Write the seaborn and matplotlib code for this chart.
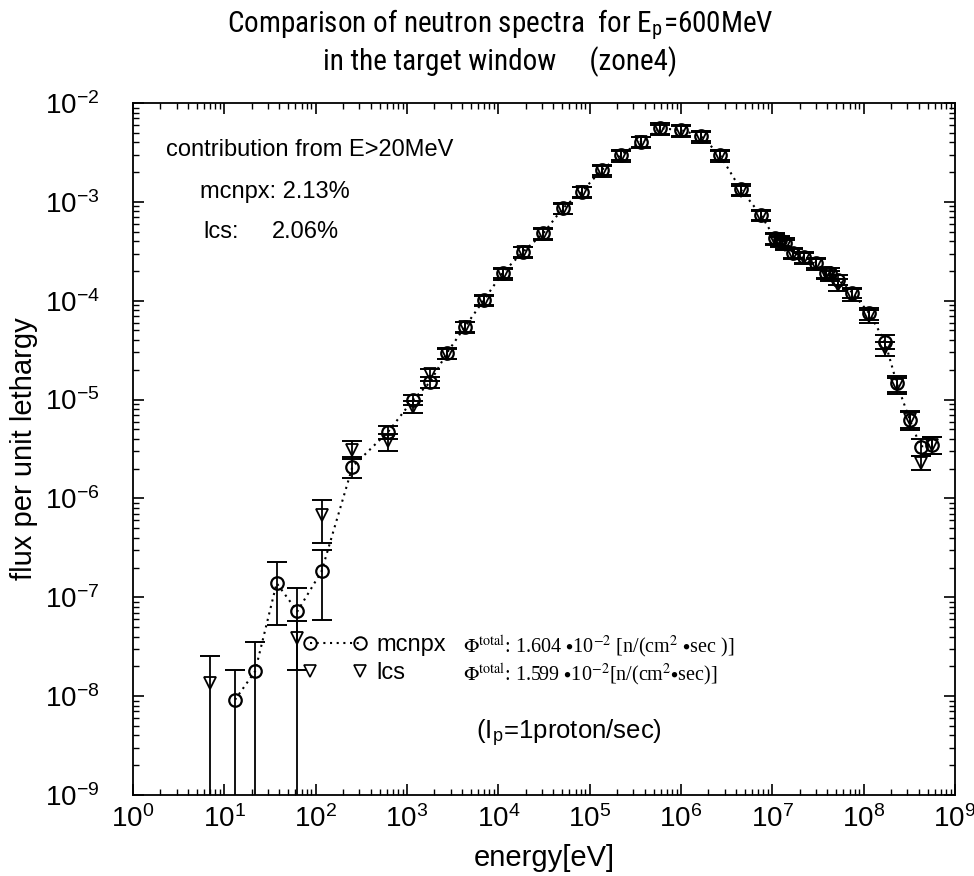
import numpy as np
import pandas as pd
import matplotlib
matplotlib.use("Agg")
import matplotlib.pyplot as plt
import seaborn as sns
from matplotlib.lines import Line2D
from matplotlib.legend_handler import HandlerLine2D
from matplotlib.ticker import LogLocator, NullFormatter
from matplotlib import font_manager

# ---------------- data ----------------
energy_eV = [7.0, 13.1, 21.7, 37.4, 63, 116, 253, 625, 1170, 1790, 2720, 4320,
             6970, 11160, 18800, 31100, 50700, 81800, 135500, 219000, 362000,
             589000, 993000, 1.64e6, 2.67e6, 4.5e6, 7.46e6, 1.07e7, 1.21e7,
             1.38e7, 1.67e7, 2.22e7, 2.98e7, 3.87e7, 4.27e7, 5.27e7, 7.5e7,
             1.15e8, 1.71e8, 2.3e8, 3.2e8, 4.2e8, 5.55e8]

mcnpx_flux = [np.nan, 9.2e-9, 1.78e-8, 1.39e-7, 7.2e-8, 1.83e-7, 2.1e-6, 4.75e-6,
              1.0e-5, 1.5e-5, 2.94e-5, 5.47e-5, 1.02e-4, 1.92e-4, 3.14e-4, 4.81e-4,
              8.6e-4, 1.27e-3, 2.1e-3, 2.98e-3, 4.06e-3, 5.55e-3, 5.33e-3, 4.64e-3,
              2.98e-3, 1.34e-3, 7.4e-4, 4.28e-4, 4.07e-4, 3.82e-4, 3.07e-4, 2.76e-4,
              2.43e-4, 1.92e-4, 1.9e-4, 1.62e-4, 1.21e-4, 7.46e-5, 3.86e-5, 1.47e-5,
              6.2e-6, 3.35e-6, 3.48e-6]
# relative errors (lower / upper); 1.0 means the bar reaches zero
mcnpx_err_lo = [0, 1.0, 1.0, 0.62, 1.0, 0.68, 0.24, 0.15, 0.12, 0.12, 0.12, 0.12,
                0.12, 0.12, 0.12, 0.12, 0.12, 0.12, 0.12, 0.12, 0.12, 0.12, 0.12,
                0.12, 0.12, 0.12, 0.12, 0.12, 0.12, 0.12, 0.12, 0.12, 0.12, 0.12,
                0.12, 0.12, 0.12, 0.14, 0.16, 0.18, 0.2, 0.2, 0.2]
mcnpx_err_hi = [0, 1.0, 1.0, 0.65, 0.72, 0.64, 0.24, 0.15, 0.12, 0.12, 0.12, 0.12,
                0.12, 0.12, 0.12, 0.12, 0.12, 0.12, 0.12, 0.12, 0.12, 0.12, 0.12,
                0.12, 0.12, 0.12, 0.12, 0.12, 0.12, 0.12, 0.12, 0.12, 0.12, 0.12,
                0.12, 0.12, 0.12, 0.14, 0.16, 0.18, 0.2, 0.2, 0.2]

lcs_flux = [1.37e-8, np.nan, np.nan, np.nan, 3.87e-8, 6.8e-7, 3.1e-6, 3.77e-6,
            8.5e-6, 1.8e-5, 2.9e-5, 5.4e-5, 1.0e-4, 1.85e-4, 3.1e-4, 4.7e-4, 8.5e-4,
            1.25e-3, 2.05e-3, 2.9e-3, 4.0e-3, 5.4e-3, 5.2e-3, 4.5e-3, 2.9e-3, 1.3e-3,
            7.2e-4, 4.2e-4, 3.95e-4, 3.7e-4, 3.0e-4, 2.7e-4, 2.35e-4, 1.9e-4, 1.8e-4,
            1.45e-4, 1.15e-4, 7.0e-5, 3.3e-5, 1.4e-5, 6.4e-6, 2.3e-6, 3.5e-6]
lcs_err_lo = [1.0, 0, 0, 0, 0.53, 0.48, 0.2, 0.2, 0.14, 0.14, 0.12, 0.12, 0.12,
              0.12, 0.12, 0.12, 0.12, 0.12, 0.12, 0.12, 0.12, 0.12, 0.12, 0.12,
              0.12, 0.12, 0.12, 0.12, 0.12, 0.12, 0.12, 0.12, 0.12, 0.12, 0.12,
              0.14, 0.14, 0.14, 0.16, 0.18, 0.2, 0.16, 0.2]
lcs_err_hi = [0.85, 0, 0, 0, 0.5, 0.43, 0.22, 0.2, 0.14, 0.14, 0.12, 0.12, 0.12,
              0.12, 0.12, 0.12, 0.12, 0.12, 0.12, 0.12, 0.12, 0.12, 0.12, 0.12,
              0.12, 0.12, 0.12, 0.12, 0.12, 0.12, 0.12, 0.12, 0.12, 0.12, 0.12,
              0.14, 0.14, 0.14, 0.16, 0.18, 0.2, 0.16, 0.2]

series_names = ["mcnpx", "lcs"]
phi_texts = [r"$\Phi^{\rm total}$: 1.604 $\bullet$10$^{-2}$ [n/(cm$^2$ $\bullet$sec )]",
             r"$\Phi^{\rm total}$: 1.599 $\bullet$10$^{-2}$[n/(cm$^2$$\bullet$sec)]"]

# ---------------- style ----------------
sns.set_theme(style="ticks")
plt.rcParams["font.family"] = ["Liberation Sans", "DejaVu Sans"]
plt.rcParams["mathtext.fontset"] = "stix"
plt.rcParams["axes.linewidth"] = 1.3
for k in ["text.color", "axes.labelcolor", "xtick.color", "ytick.color", "axes.edgecolor"]:
    plt.rcParams[k] = "black"

df = pd.DataFrame({"energy": energy_eV,
                   "mcnpx": mcnpx_flux, "lcs": lcs_flux,
                   "m_lo": mcnpx_err_lo, "m_hi": mcnpx_err_hi,
                   "l_lo": lcs_err_lo, "l_hi": lcs_err_hi})

fig = plt.figure(figsize=(9.74, 8.76), dpi=100)
ax = fig.add_axes([133 / 974, 81 / 876, 822 / 974, 692 / 876])

# error bars
for col, lo, hi in [("mcnpx", "m_lo", "m_hi"), ("lcs", "l_lo", "l_hi")]:
    d = df.dropna(subset=[col])
    y = d[col].values
    yerr = np.vstack([y * d[lo].values, y * d[hi].values])
    ax.errorbar(d["energy"], y, yerr=yerr, fmt="none", ecolor="black",
                elinewidth=1.3, capsize=7, capthick=1.4, zorder=2)

# mcnpx: dotted line + open circles
sns.lineplot(data=df.dropna(subset=["mcnpx"]), x="energy", y="mcnpx", ax=ax,
             color="black", linestyle=(0, (1, 2.2)), linewidth=1.5,
             marker="o", markersize=9, markerfacecolor="none",
             markeredgecolor="black", markeredgewidth=1.6, sort=True,
             estimator=None, zorder=3)
# lcs: open down-triangles, no line
sns.lineplot(data=df.dropna(subset=["lcs"]), x="energy", y="lcs", ax=ax,
             color="black", linestyle="", marker="v", markersize=9,
             markerfacecolor="none", markeredgecolor="black",
             markeredgewidth=1.3, estimator=None, zorder=3)

ax.set_xscale("log")
ax.set_yscale("log")
ax.set_xlim(1, 1e9)
ax.set_ylim(1e-9, 1e-2)

ax.xaxis.set_major_locator(LogLocator(base=10, numticks=20))
ax.yaxis.set_major_locator(LogLocator(base=10, numticks=20))
ax.xaxis.set_minor_locator(LogLocator(base=10, subs=np.arange(2, 10), numticks=100))
ax.yaxis.set_minor_locator(LogLocator(base=10, subs=np.arange(2, 10), numticks=100))
ax.xaxis.set_minor_formatter(NullFormatter())
ax.yaxis.set_minor_formatter(NullFormatter())
ax.tick_params(which="both", direction="in", top=True, right=True, color="black",
               labelcolor="black")
ax.tick_params(which="major", length=8, width=1.2, labelsize=20)
ax.tick_params(axis="x", which="major", pad=7)
ax.tick_params(axis="y", which="major", pad=24)
ax.tick_params(which="minor", length=4, width=1.0)
for s in ax.spines.values():
    s.set_color("black")

ax.set_xlabel("energy[eV]", fontsize=21, labelpad=8, color="black")
ax.set_ylabel("flux per unit lethargy", fontsize=21, color="black")
ax.yaxis.set_label_coords(-0.1156, 0.5)

# legend
h_m = Line2D([], [], color="black", linestyle=(0, (1, 2.2)), linewidth=1.5,
             marker="o", markersize=9, markerfacecolor="none", markeredgewidth=1.4)
h_l = Line2D([], [], color="black", linestyle="", marker="v", markersize=9,
             markerfacecolor="none", markeredgewidth=1.2, markevery=[1])
leg = ax.legend([h_m, h_l], series_names, loc="upper left",
                bbox_to_anchor=((303 - 133) / 822, (795 - 634) / 692),
                frameon=False, fontsize=17, handlelength=2.7, handletextpad=0.4,
                labelspacing=0.25, borderaxespad=0, borderpad=0, numpoints=2,
                labelcolor="black",
                handler_map={h_m: HandlerLine2D(numpoints=2), h_l: HandlerLine2D(numpoints=2)})

for i, t in enumerate(phi_texts):
    ax.text((463 - 133) / 822, (795 - 647 - 28 * i) / 692, t, transform=ax.transAxes,
            fontsize=14.5, va="center", ha="left", family="Liberation Serif")

ax.text((166 - 133) / 822, (795 - 150) / 692, "contribution from E>20MeV",
        transform=ax.transAxes, fontsize=17, va="center")
ax.text((200 - 133) / 822, (795 - 192) / 692, "mcnpx: 2.13%",
        transform=ax.transAxes, fontsize=17, va="center")
ax.text((203 - 133) / 822, (795 - 232) / 692, "lcs:",
        transform=ax.transAxes, fontsize=17, va="center")
ax.text((272 - 133) / 822, (795 - 232) / 692, "2.06%",
        transform=ax.transAxes, fontsize=17, va="center")
ax.text((476 - 133) / 822, (795 - 733) / 692, r"(I$_\mathdefault{p}$=1proton/sec)",
        transform=ax.transAxes, fontsize=18.5, va="center", ha="left")

candidates = ["Liberation Sans Narrow", "Arial Narrow", "Nimbus Sans Narrow",
              "Roboto Condensed", "Archivo Narrow", "Liberation Sans"]
installed = {f.name for f in font_manager.fontManager.ttflist}
title_family = [c for c in candidates if c in installed]
fig.text(500 / 974, 1 - 32 / 876, r"Comparison of neutron spectra  for E$_\mathdefault{p}$=600MeV",
         ha="center", va="baseline", fontsize=21, family=title_family)
fig.text(500 / 974, 1 - 70 / 876, "in the target window     (zone4)",
         ha="center", va="baseline", fontsize=21, family=title_family)

fig.savefig("out.png", dpi=100)
